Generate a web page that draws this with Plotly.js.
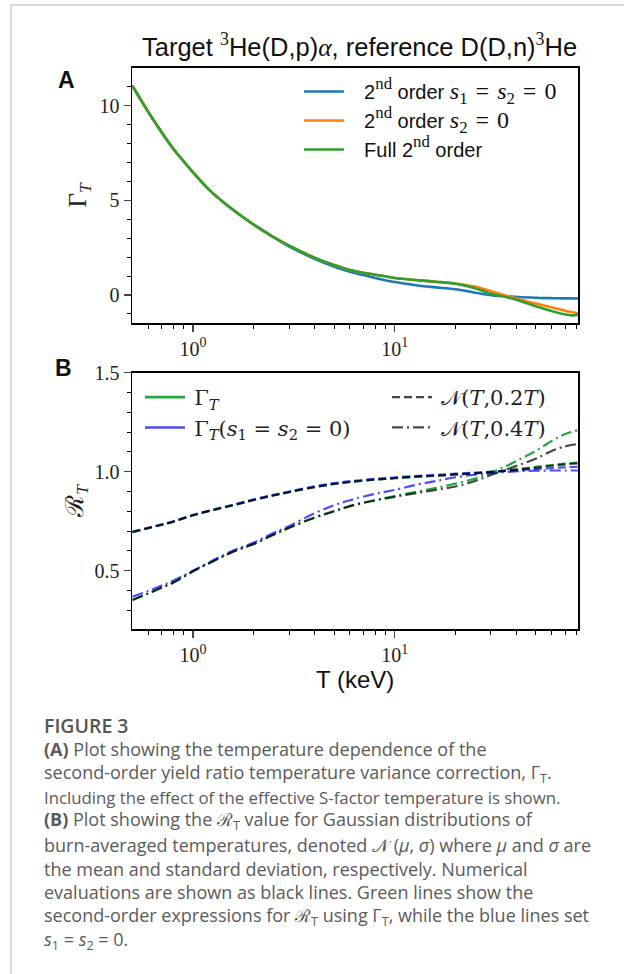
<!DOCTYPE html>
<html><head><meta charset="utf-8">
<script src="https://cdn.plot.ly/plotly-3.0.1.min.js"></script>
<style>html,body{margin:0;padding:0;background:#fff}#chart{width:624px;height:974px}</style>
</head><body><div id="chart"></div>
<script>
const W = 624, H = 974;
// ---------- Panel A data: Gamma_T vs T (keV) ----------
const tA = [0.5,0.6,0.7,0.8,0.9,1.0,1.2,1.45,1.8,2.0,2.5,3.0,4.0,5.0,6.0,8.0,10,13,16,20,25,30,36,43,50,61,70,75,81];
const gammaS12zero = [11.05,9.67,8.58,7.71,7.05,6.47,5.56,4.8,4.05,3.71,3.06,2.56,1.91,1.5,1.22,0.9,0.68,0.5,0.4,0.3,0.12,-0.01,-0.07,-0.12,-0.15,-0.17,-0.18,-0.182,-0.185];
const gammaS2zero  = [11.05,9.67,8.58,7.71,7.05,6.47,5.56,4.8,4.05,3.71,3.07,2.6,1.97,1.58,1.32,1.07,0.9,0.78,0.7,0.61,0.44,0.2,-0.05,-0.27,-0.45,-0.68,-0.83,-0.9,-0.97];
const gammaFull    = [11.05,9.67,8.58,7.71,7.05,6.47,5.56,4.8,4.05,3.71,3.07,2.6,1.97,1.58,1.32,1.07,0.9,0.78,0.7,0.59,0.36,0.06,-0.12,-0.36,-0.6,-0.87,-1.03,-1.08,-1.06];
const SERIF = 'Liberation Serif, DejaVu Serif, serif';
const SANS = 'Liberation Sans, Arial, sans-serif';
const M = s => '<span style="font-family:Liberation Serif">' + s + '</span>';
const ML = s => '<span style="font-family:Liberation Serif;font-size:24px">' + s + '</span>';
const GAP = '\u00A0\u00A0\u2009';
const EQ = '\u2004=\u2004';
const namesA = [
  GAP + '2' + ML('<sup>nd</sup>') + ' order ' + ML('<i>s</i><sub>1</sub>' + EQ + '<i>s</i><sub>2</sub>' + EQ + '0'),
  GAP + '2' + ML('<sup>nd</sup>') + ' order ' + ML('<i>s</i><sub>2</sub>' + EQ + '0'),
  GAP + 'Full 2' + ML('<sup>nd</sup>') + ' order'];
// ---------- Panel B data: R_T vs T (keV) ----------
const tB = [0.5,0.6,0.7,0.8,1.0,1.3,1.6,2.0,2.5,3.0,4.0,5.0,6.0,8.0,10,13,16,20,25,30,36,43,50,60,70,81];
const rNum02 = [0.695,0.715,0.732,0.748,0.78,0.81,0.832,0.857,0.88,0.897,0.922,0.938,0.948,0.96,0.967,0.975,0.98,0.986,0.992,0.998,1.005,1.013,1.02,1.03,1.037,1.042];
const rGam02 = [0.695,0.715,0.732,0.748,0.78,0.81,0.832,0.857,0.88,0.897,0.922,0.938,0.948,0.96,0.967,0.975,0.98,0.986,0.992,0.999,1.007,1.016,1.024,1.034,1.041,1.046];
const rS0_02 = [0.697,0.717,0.734,0.75,0.782,0.812,0.835,0.86,0.883,0.9,0.926,0.942,0.952,0.964,0.971,0.979,0.984,0.99,0.995,1.0,1.004,1.009,1.013,1.018,1.022,1.025];
const rNum04 = [0.352,0.385,0.415,0.44,0.497,0.555,0.598,0.635,0.682,0.717,0.768,0.8,0.826,0.855,0.873,0.893,0.908,0.925,0.953,0.983,1.012,1.04,1.065,1.105,1.128,1.14];
const rGam04 = [0.352,0.385,0.415,0.44,0.497,0.555,0.598,0.635,0.682,0.717,0.768,0.8,0.827,0.857,0.877,0.9,0.918,0.94,0.965,0.995,1.03,1.07,1.105,1.155,1.19,1.21];
const rS0_04 = [0.368,0.398,0.425,0.45,0.5,0.56,0.604,0.642,0.69,0.726,0.79,0.83,0.856,0.888,0.908,0.935,0.953,0.972,0.985,0.993,0.999,1.003,1.005,1.006,1.006,1.006];
const namesB = ['\u2009Γ<sub><i>T</i></sub>','\u2009Γ<sub><i>T</i></sub>(<i>s</i><sub>1</sub> = <i>s</i><sub>2</sub> = 0)','\u2009𝒩(<i>T</i>,0.2<i>T</i>)','\u2009𝒩(<i>T</i>,0.4<i>T</i>)'];
// ---------- tick labels ----------
const xTickVals = [1,10];
const xTickText = ['10<sup>0</sup>','10<sup>1</sup>'];
const xMinorVals = [0.6,0.7,0.8,0.9,2,3,4,5,6,7,8,9,20,30,40,50,60,70,80];
const yATickVals = [0,5,10];
const yAMinorVals = [-1,1,2,3,4,6,7,8,9,11];
const yBTickVals = [0.5,1.0,1.5];
const yBTickText = ['0.5','1.0','1.5'];
const yBMinorVals = [0.3,0.4,0.6,0.7,0.8,0.9,1.1,1.2,1.3,1.4];
const captionLines = [
 '(A) Plot showing the temperature dependence of the',
 'second-order yield ratio temperature variance correction, Γ<sub>T</sub>.',
 'Including the effect of the effective S-factor temperature is shown.',
 '(B) Plot showing the ℛ<sub>T</sub> value for Gaussian distributions of',
 'burn-averaged temperatures, denoted 𝒩 (<i>μ</i>, <i>σ</i>) where <i>μ</i> and <i>σ</i> are',
 'the mean and standard deviation, respectively. Numerical',
 'evaluations are shown as black lines. Green lines show the',
 'second-order expressions for ℛ<sub>T</sub> using Γ<sub>T</sub>, while the blue lines set',
 '<i>s</i><sub>1</sub> = <i>s</i><sub>2</sub> = 0.'
];
const captionSizes = [18, 18, 16.8, 18, 18, 18, 18, 18, 18];

const px2y = p => 1 - p / H;
const px2x = p => p / W;

const cBlueA = '#1f77b4', cOrangeA = '#ff7f0e', cGreenA = '#2ca02c';
const cGreenB = '#22a83e', cBlueB = 'rgba(0,0,255,0.7)', cBlackB = 'rgba(0,0,0,0.72)';
const DASH = '8px,4px', DASHDOT = '11px,4px,2px,4px';

const traces = [
  {x:tA, y:gammaS12zero, mode:'lines', line:{color:cBlueA, width:2.6, shape:'spline'}, name:namesA[0], xaxis:'x', yaxis:'y', legend:'legend'},
  {x:tA, y:gammaS2zero, mode:'lines', line:{color:cOrangeA, width:2.6, shape:'spline'}, name:namesA[1], xaxis:'x', yaxis:'y', legend:'legend'},
  {x:tA, y:gammaFull, mode:'lines', line:{color:cGreenA, width:2.6, shape:'spline'}, name:namesA[2], xaxis:'x', yaxis:'y', legend:'legend'},
  // panel B curves
  {x:tB, y:rGam02, mode:'lines', line:{color:cGreenB, width:2.2, dash:DASH, shape:'spline'}, showlegend:false, xaxis:'x2', yaxis:'y2'},
  {x:tB, y:rGam04, mode:'lines', line:{color:cGreenB, width:2.2, dash:DASHDOT, shape:'spline'}, showlegend:false, xaxis:'x2', yaxis:'y2'},
  {x:tB, y:rS0_02, mode:'lines', line:{color:cBlueB, width:2.2, dash:DASH, shape:'spline'}, showlegend:false, xaxis:'x2', yaxis:'y2'},
  {x:tB, y:rS0_04, mode:'lines', line:{color:cBlueB, width:2.2, dash:DASHDOT, shape:'spline'}, showlegend:false, xaxis:'x2', yaxis:'y2'},
  {x:tB, y:rNum02, mode:'lines', line:{color:cBlackB, width:2.2, dash:DASH, shape:'spline'}, showlegend:false, xaxis:'x2', yaxis:'y2'},
  {x:tB, y:rNum04, mode:'lines', line:{color:cBlackB, width:2.2, dash:DASHDOT, shape:'spline'}, showlegend:false, xaxis:'x2', yaxis:'y2'},
  // legend entries for panel B
  {x:[null], y:[null], mode:'lines', line:{color:cGreenB, width:2.6}, name:namesB[0], xaxis:'x2', yaxis:'y2', legend:'legend2'},
  {x:[null], y:[null], mode:'lines', line:{color:cBlueB, width:2.6}, name:namesB[1], xaxis:'x2', yaxis:'y2', legend:'legend2'},
  {x:[null], y:[null], mode:'lines', line:{color:cBlackB, width:2.2, dash:DASH}, name:namesB[2], xaxis:'x2', yaxis:'y2', legend:'legend3'},
  {x:[null], y:[null], mode:'lines', line:{color:cBlackB, width:2.2, dash:DASHDOT}, name:namesB[3], xaxis:'x2', yaxis:'y2', legend:'legend3'}
];

const xDomain = [132.3/W, 578/W];
function xAxis(anchor){
  return {type:'log', domain:xDomain, anchor:anchor, range:[Math.log10(0.5), Math.log10(81)],
    tickmode:'array', tickvals:xTickVals, ticktext:xTickText, ticks:'outside', ticklen:7, tickwidth:1.5,
    tickfont:{family:SERIF, size:20, color:'#222'}, showline:true, linecolor:'#000', linewidth:1.8, mirror:true,
    showgrid:false, zeroline:false,
    minor:{tickmode:'array', tickvals:xMinorVals, ticks:'outside', ticklen:4, tickwidth:1, tickcolor:'#000', showgrid:false}};
}
const legendFontB = {family:'DejaVu Serif, Liberation Serif, serif', size:21, color:'#222'};
const layout = {
  width:W, height:H, margin:{l:0,r:0,t:0,b:0}, paper_bgcolor:'#fff', plot_bgcolor:'#fff', showlegend:true,
  xaxis: xAxis('y'),
  xaxis2: Object.assign(xAxis('y2'), {title:{text:'T (keV)', font:{family:SANS, size:24, color:'#111'}, standoff:2}}),
  yaxis: {domain:[px2y(323), px2y(67.7)], anchor:'x', range:[-1.48, 12.0], tickmode:'array', tickvals:yATickVals,
    ticks:'outside', ticklen:7, tickwidth:1.5, tickfont:{family:SERIF, size:20, color:'#222'},
    showline:true, linecolor:'#000', linewidth:1.8, mirror:true, showgrid:false, zeroline:false,
    title:{text:'Γ<sub><i>T</i></sub>', font:{family:SERIF, size:25, color:'#222'}, standoff:6},
    minor:{tickmode:'array', tickvals:yAMinorVals, ticks:'outside', ticklen:4, tickwidth:1, tickcolor:'#000', showgrid:false}},
  yaxis2: {domain:[px2y(629.3), px2y(372.7)], anchor:'x2', range:[0.204, 1.5], tickmode:'array', tickvals:yBTickVals, ticktext:yBTickText,
    ticks:'outside', ticklen:7, tickwidth:1.5, tickfont:{family:SERIF, size:20, color:'#222'},
    showline:true, linecolor:'#000', linewidth:1.8, mirror:true, showgrid:false, zeroline:false,
    title:{text:'ℛ<sub><i>T</i></sub>', font:{family:SERIF, size:25, color:'#222'}, standoff:4},
    minor:{tickmode:'array', tickvals:yBMinorVals, ticks:'outside', ticklen:4, tickwidth:1, tickcolor:'#000', showgrid:false}},
  legend: {x:px2x(299), y:px2y(72), xanchor:'left', yanchor:'top', bgcolor:'rgba(0,0,0,0)', itemwidth:40,
    font:{family:SANS, size:20, color:'#111'}, tracegroupgap:0},
  legend2: {x:px2x(140), y:px2y(377), xanchor:'left', yanchor:'top', bgcolor:'rgba(0,0,0,0)', itemwidth:40, font:legendFontB},
  legend3: {x:px2x(387), y:px2y(377), xanchor:'left', yanchor:'top', bgcolor:'rgba(0,0,0,0)', itemwidth:40, font:legendFontB},
  shapes: [
    {type:'rect', xref:'paper', yref:'paper', x0:px2x(11), x1:1.05, y0:-0.05, y1:px2y(5), line:{color:'#cfcfcf', width:1.5}, fillcolor:'rgba(0,0,0,0)', layer:'below'}
  ],
  annotations: [
    {xref:'paper', yref:'paper', x:px2x(359), y:px2y(64), xanchor:'center', yanchor:'bottom', showarrow:false,
      text:'Target ' + M('<sup>3</sup>') + 'He(D,p)' + M('<i>α</i>') + ', reference D(D,n)' + M('<sup>3</sup>') + 'He',
      font:{family:SANS, size:25.5, color:'#111'}},
    {xref:'paper', yref:'paper', x:px2x(66), y:px2y(80), xanchor:'center', yanchor:'middle', showarrow:false,
      text:'<b>A</b>', font:{family:SANS, size:23, color:'#111'}},
    {xref:'paper', yref:'paper', x:px2x(63), y:px2y(368), xanchor:'center', yanchor:'middle', showarrow:false,
      text:'<b>B</b>', font:{family:SANS, size:23, color:'#111'}},
    {xref:'paper', yref:'paper', x:px2x(42), y:px2y(725), xanchor:'left', yanchor:'middle', showarrow:false,
      text:'FIGURE 3', font:{family:'Open Sans, sans-serif', size:19.5, color:'#555', weight:600}}
  ]
};
captionLines.forEach((t, i) => {
  let txt = t.replace(/^\((A|B)\)/, '<b>($1)</b>');
  layout.annotations.push({xref:'paper', yref:'paper', x:px2x(42), y:px2y(749.3 + i*23.85), xanchor:'left', yanchor:'middle',
    showarrow:false, align:'left', text:txt, font:{family:'Open Sans, sans-serif', size:captionSizes[i], color:'#5a5a5a'}});
});
Plotly.newPlot('chart', traces, layout, {staticPlot:true});
</script></body></html>
